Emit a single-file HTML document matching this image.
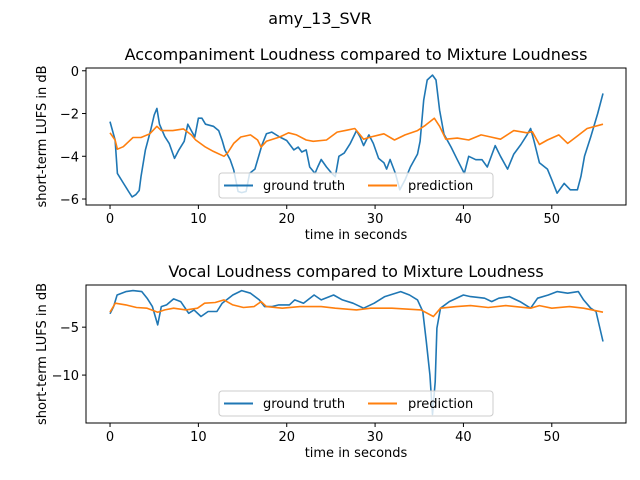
<!DOCTYPE html>
<html><head><meta charset="utf-8"><style>
body{margin:0;background:#fff}
svg{display:block;font-family:"DejaVu Sans","Liberation Sans",sans-serif}
</style></head><body>
<svg id="fig" width="640" height="480">
<rect width="640" height="480" fill="#fff"/>
<text x="320" y="24" text-anchor="middle" font-size="16">amy_13_SVR</text>
<g id="ax1"></g>
<g id="ax2"></g>
</svg>
<script>
const accTruthT=[0,0.57,0.83,1.5,2.1,2.5,2.9,3.3,3.5,4.0,4.6,5.0,5.3,5.6,6.2,6.7,7.3,7.8,8.4,8.8,9.2,9.6,10.0,10.4,10.8,11.7,12.3,12.7,13.0,13.6,14.0,14.5,14.9,15.4,15.8,16.4,17.2,17.7,18.3,19.2,20.0,20.8,21.3,21.7,22.2,22.6,23.2,23.5,23.9,24.5,25.1,25.5,25.9,26.5,27.2,27.9,28.3,28.7,29.3,29.8,30.4,31.0,31.3,31.7,32.3,32.8,33.4,34.0,34.8,35.1,35.5,35.9,36.5,36.9,37.3,37.8,38.6,39.3,40.1,40.6,41.4,42.1,42.7,43.6,44.2,45.0,45.7,46.5,47.2,47.6,48.0,48.6,49.5,50.0,50.6,51.4,52.1,52.9,53.3,53.7,54.4,55.2,55.8];
const accTruthV=[-2.38,-3.24,-4.8,-5.25,-5.65,-5.9,-5.8,-5.6,-4.95,-3.7,-2.77,-2.07,-1.76,-2.5,-3.08,-3.4,-4.1,-3.7,-3.3,-2.5,-2.8,-3.1,-2.22,-2.22,-2.5,-2.6,-2.8,-3.26,-3.7,-4.16,-4.64,-5.65,-5.7,-5.65,-4.8,-4.6,-3.47,-2.95,-2.87,-3.1,-3.26,-3.7,-3.57,-3.8,-3.7,-4.5,-4.8,-4.5,-4.15,-4.5,-4.8,-4.95,-4.0,-3.85,-3.4,-2.8,-3.1,-3.5,-3.0,-3.4,-4.1,-4.3,-4.6,-4.15,-4.8,-5.57,-5.1,-4.5,-3.9,-3.3,-1.37,-0.43,-0.2,-0.43,-1.84,-2.97,-3.57,-4.16,-4.8,-4.0,-4.16,-4.16,-4.5,-3.5,-4.0,-4.6,-3.9,-3.45,-3.0,-2.7,-3.3,-4.3,-4.6,-5.1,-5.73,-5.27,-5.57,-5.57,-4.95,-4.0,-3.1,-2.0,-1.06];
const accPredT=[0,0.57,0.83,1.5,2.6,3.5,4.5,5.3,5.8,7.1,8.3,9.2,9.7,10.8,11.7,12.9,13.3,14.0,14.8,15.9,16.7,17.1,17.7,19.2,20.2,21.1,22.2,23.0,24.5,25.7,26.8,27.7,28.3,28.7,29.5,31.0,32.2,33.4,34.8,35.7,36.7,37.3,38.0,39.3,40.6,42.0,43.1,44.2,45.7,47.2,47.8,48.6,49.5,50.8,51.8,52.9,54.0,55.8];
const accPredV=[-2.9,-3.24,-3.67,-3.55,-3.12,-3.12,-2.95,-2.6,-2.8,-2.8,-2.72,-3.0,-3.24,-3.57,-3.77,-4.0,-3.85,-3.4,-3.1,-3.0,-3.24,-3.57,-3.3,-3.1,-2.9,-3.0,-3.24,-3.3,-3.24,-2.87,-2.78,-2.7,-3.0,-3.2,-3.1,-2.95,-3.24,-3.0,-2.8,-2.55,-2.22,-2.6,-3.2,-3.15,-3.24,-3.0,-3.1,-3.2,-2.8,-2.9,-2.85,-3.45,-3.24,-3.0,-3.4,-3.05,-2.7,-2.5];
const vocTruthT=[0,0.4,0.8,1.8,2.6,3.6,4.2,4.8,5.4,5.8,6.4,7.2,8.0,8.9,9.5,10.3,11.1,12.1,12.7,13.9,14.9,15.9,16.9,17.5,18.3,19.1,20.3,20.9,21.9,23.1,23.9,25.3,26.3,27.5,28.7,29.9,31.1,32.9,33.9,34.8,35.4,35.8,36.2,36.5,36.8,37.0,37.4,38.4,40.0,40.8,42.4,43.2,44.0,45.2,46.4,47.6,48.4,49.6,50.6,51.8,53.0,53.6,54.4,55.0,55.8];
const vocTruthV=[-3.61,-2.85,-1.64,-1.29,-1.18,-1.29,-1.98,-2.85,-4.76,-2.85,-2.68,-2.05,-2.33,-3.55,-3.2,-3.89,-3.37,-3.37,-2.5,-1.64,-1.18,-1.46,-2.16,-2.85,-2.85,-2.68,-2.68,-2.16,-2.5,-1.64,-2.16,-1.64,-2.16,-2.5,-3.02,-2.5,-1.81,-1.29,-1.64,-2.16,-3.37,-6.5,-9.97,-14.1,-10.7,-5.1,-3.02,-2.33,-1.64,-1.81,-1.98,-2.33,-1.98,-1.81,-2.33,-3.02,-1.98,-1.64,-1.29,-1.46,-1.29,-2.16,-3.02,-3.37,-6.5];
const vocPredT=[0,0.6,1.8,3.0,4.2,5.4,6.2,7.2,8.6,9.9,10.7,11.9,12.9,13.9,15.1,16.3,17.1,17.7,19.5,21.5,23.9,25.5,27.9,29.5,31.9,35.2,36.6,37.4,39.2,40.8,42.8,44.8,47.6,48.6,50.0,52.0,53.6,55.8];
const vocPredV=[-3.44,-2.5,-2.68,-2.95,-3.02,-3.44,-3.2,-3.02,-3.2,-3.02,-2.5,-2.43,-2.16,-2.68,-2.95,-2.85,-2.33,-2.85,-3.02,-2.85,-2.85,-3.02,-3.2,-3.02,-3.02,-3.2,-3.89,-3.02,-2.85,-2.75,-2.95,-2.75,-3.02,-2.75,-3.02,-2.85,-3.02,-3.44];
const xTicks=[0,10,20,30,40,50];
const yTicks1=[0,-2,-4,-6];
const yTicks2=[-5,-10];
const NS='http://www.w3.org/2000/svg';
function mk(p,tag,at,txt){const e=document.createElementNS(NS,tag);for(const k in at)e.setAttribute(k,at[k]);if(txt!==undefined)e.textContent=txt;p.appendChild(e);return e;}
function drawAx(g,L,T,R,B,x0,x1,y0,y1,yt,title,s1T,s1V,s2T,s2V,leg){
 const sx=v=>L+(v-x0)/(x1-x0)*(R-L), sy=v=>B-(v-y0)/(y1-y0)*(B-T);
 const t=mk(g,'text',{x:(L+R)/2,y:T-8,'text-anchor':'middle','font-size':16});t.textContent=title;
 
 
 const cp='c'+T;const cl=mk(g,'clipPath',{id:cp});mk(cl,'rect',{x:L,y:T,width:R-L,height:B-T});
 [[s1T,s1V,'#1f77b4','ground-truth-line'],[s2T,s2V,'#ff7f0e','prediction-line']].forEach(([ts,vs,c,n])=>{
  const p=mk(g,'polyline',{points:ts.map((v,i)=>sx(v).toFixed(1)+','+sy(vs[i]).toFixed(1)).join(' '),fill:'none',stroke:c,'stroke-width':1.6,'stroke-linejoin':'round','clip-path':'url(#'+cp+')'});
  
  
 });
 mk(g,'rect',{x:L,y:T,width:R-L,height:B-T,fill:'none',stroke:'#000','stroke-width':1});
 xTicks.forEach(v=>{const x=sx(v);mk(g,'line',{x1:x,x2:x,y1:B,y2:B+4,stroke:'#000'});const e=mk(g,'text',{x:x,y:B+18,'text-anchor':'middle','font-size':13},String(v));
  
  });
 yt.forEach(v=>{const y=sy(v);mk(g,'line',{x1:L-4,x2:L,y1:y,y2:y,stroke:'#000'});const e=mk(g,'text',{x:L-7,y:y+5,'text-anchor':'end','font-size':13},String(v).replace('-','\u2212'));
  
  });
 const xl=mk(g,'text',{x:(L+R)/2,y:B+34,'text-anchor':'middle','font-size':13},'time in seconds');
 
 
 const yl=mk(g,'text',{x:0,y:0,'text-anchor':'middle','font-size':13,transform:'translate(46,'+((T+B)/2)+') rotate(-90)'},'short-term LUFS in dB');
 
 
 const lg=mk(g,'g',{});
 
 
 mk(lg,'rect',{x:219,y:leg,width:274,height:25,rx:3,fill:'#fff','fill-opacity':0.8,stroke:'#ccc'});
 mk(lg,'line',{x1:224,x2:253,y1:leg+12.5,y2:leg+12.5,stroke:'#1f77b4','stroke-width':2});
 mk(lg,'text',{x:263,y:leg+17,'font-size':13},'ground truth');
 mk(lg,'line',{x1:368,x2:397,y1:leg+12.5,y2:leg+12.5,stroke:'#ff7f0e','stroke-width':2});
 mk(lg,'text',{x:408,y:leg+17,'font-size':13},'prediction');
}
drawAx(document.getElementById('ax1'),86,68,626,205,-2.72,58.4,-6.28,0.13,yTicks1,'Accompaniment Loudness compared to Mixture Loudness',accTruthT,accTruthV,accPredT,accPredV,173);
drawAx(document.getElementById('ax2'),86,285,626,423,-2.72,58.4,-15.0,-0.6,yTicks2,'Vocal Loudness compared to Mixture Loudness',vocTruthT,vocTruthV,vocPredT,vocPredV,391);
</script>
</body></html>
